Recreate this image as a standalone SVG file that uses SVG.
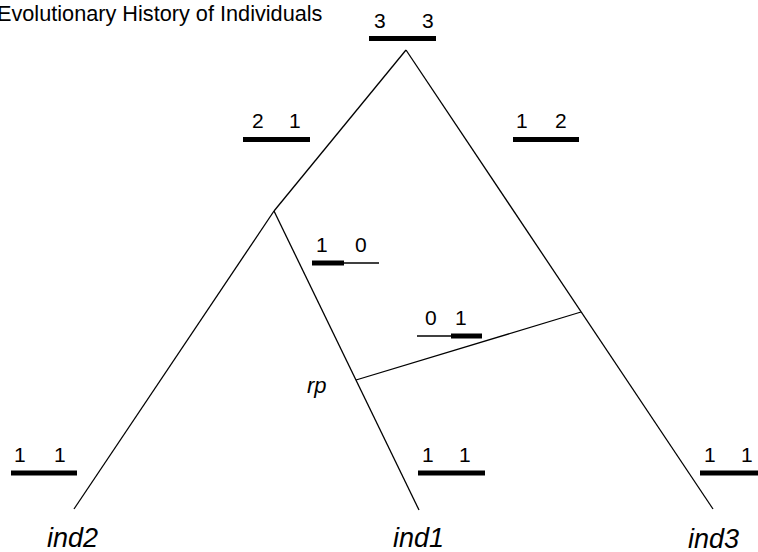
<svg xmlns="http://www.w3.org/2000/svg" width="758" height="552" viewBox="0 0 758 552">
<style>
text{font-family:"Liberation Sans",Arial,sans-serif;fill:#000}
.t{font-size:21.7px}
.d{font-size:21px}
.l{font-size:27px;font-style:italic}
.rp{font-size:22px;font-style:italic}
.e{stroke:#000;stroke-width:1.3;fill:none}
.b{stroke:#000;stroke-width:5;fill:none}
.n{stroke:#000;stroke-width:1.3;fill:none}
</style>
<rect width="758" height="552" fill="#fff"/>
<text class="t" x="-3" y="21">Evolutionary History of Individuals</text>
<g id="connectors">
<line class="e" x1="406" y1="50" x2="274" y2="211"/>
<line class="e" x1="274" y1="211" x2="74" y2="509"/>
<line class="e" x1="274" y1="211" x2="419" y2="510"/>
<line class="e" x1="406" y1="50" x2="713" y2="509"/>
<line class="e" x1="356" y1="380" x2="581" y2="312"/>
</g>
<g id="root">
<text class="d" x="374" y="28">3</text><text class="d" x="422" y="28">3</text>
<line class="b" x1="369" y1="38.5" x2="436" y2="38.5"/>
</g>
<g id="left">
<text class="d" x="252" y="128">2</text><text class="d" x="289" y="128">1</text>
<line class="b" x1="243" y1="139.5" x2="310" y2="139.5"/>
</g>
<g id="right">
<text class="d" x="516" y="128">1</text><text class="d" x="555" y="128">2</text>
<line class="b" x1="513" y1="139.5" x2="579" y2="139.5"/>
</g>
<g id="inner">
<text class="d" x="316" y="252">1</text><text class="d" x="355" y="252">0</text>
<line class="b" x1="312" y1="263" x2="344" y2="263"/>
<line class="n" x1="344" y1="263" x2="379" y2="263"/>
</g>
<g id="recomb">
<text class="d" x="425" y="325">0</text><text class="d" x="455" y="325">1</text>
<line class="n" x1="417" y1="336" x2="451" y2="336"/>
<line class="b" x1="451" y1="336" x2="482" y2="336"/>
<text class="rp" x="307" y="393">rp</text>
</g>
<g id="ind2">
<text class="d" x="14" y="462">1</text><text class="d" x="54" y="462">1</text>
<line class="b" x1="11" y1="473" x2="77" y2="473"/>
<text class="l" x="47" y="547">ind2</text>
</g>
<g id="ind1">
<text class="d" x="422" y="462">1</text><text class="d" x="459" y="462">1</text>
<line class="b" x1="418" y1="473" x2="485" y2="473"/>
<text class="l" x="393" y="547">ind1</text>
</g>
<g id="ind3">
<text class="d" x="704" y="462">1</text><text class="d" x="741" y="462">1</text>
<line class="b" x1="700" y1="473" x2="766" y2="473"/>
<text class="l" x="688" y="548">ind3</text>
</g>
</svg>
